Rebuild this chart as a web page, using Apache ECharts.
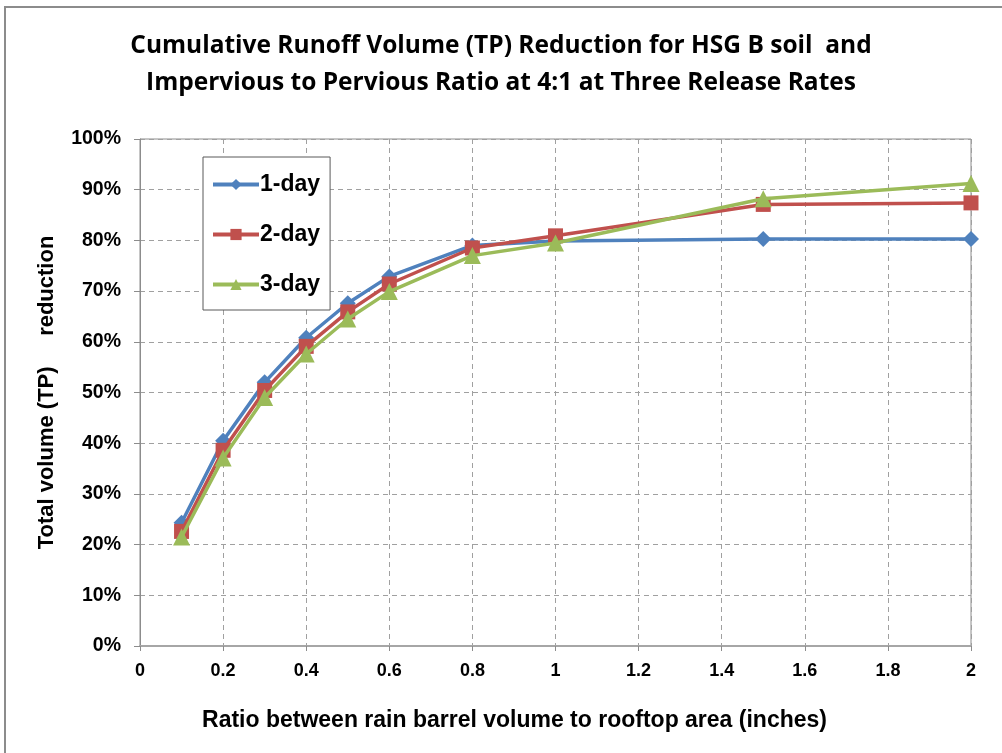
<!DOCTYPE html>
<html>
<head>
<meta charset="utf-8">
<script src="https://cdn.jsdelivr.net/npm/echarts@6/dist/echarts.min.js"></script>
<style>
  html, body { margin: 0; padding: 0; background: #ffffff; }
  #chart { width: 1002px; height: 753px; }
</style>
</head>
<body>
<div id="chart"></div>
<script>
// Rain barrel volume to rooftop area ratio (inches)
const ratios = [0.1, 0.2, 0.3, 0.4, 0.5, 0.6, 0.8, 1.0, 1.5, 2.0];
// Total volume (TP) reduction, percent
const oneDay   = [24.3, 40.5, 52.0, 60.8, 67.6, 72.9, 79.0, 79.9, 80.3, 80.3];
const twoDay   = [22.6, 38.6, 50.4, 59.1, 65.9, 71.4, 78.5, 80.9, 87.1, 87.4];
const threeDay = [21.5, 37.1, 49.0, 57.6, 64.5, 69.9, 77.0, 79.5, 88.2, 91.2];
const seriesNames = ['1-day', '2-day', '3-day'];
const titleLines = [
  'Cumulative Runoff Volume (TP) Reduction for HSG B soil  and',
  'Impervious to Pervious Ratio at 4:1 at Three Release Rates'
];
const xAxisTitle = 'Ratio between rain barrel volume to rooftop area (inches)';
const yAxisTitle = 'Total volume (TP)     reduction';

const pairs = arr => ratios.map((x, i) => [x, arr[i]]);

const chart = echarts.init(document.getElementById('chart'), null, { renderer: 'canvas' });

const axisFont = { fontFamily: 'Liberation Sans, Arial, sans-serif', fontWeight: 'bold', color: '#000' };

chart.setOption({
  backgroundColor: '#ffffff',
  animation: false,
  title: {
    text: titleLines.join('\n'),
    left: 'center',
    top: 23,
    padding: [5, 0, 5, 18],
    textStyle: {
      fontFamily: 'Open Sans, sans-serif',
      fontWeight: 'bold',
      fontSize: 24.5,
      lineHeight: 37,
      color: '#000'
    }
  },
  graphic: [
    {
      type: 'polyline',
      shape: { points: [[5, 753], [5, 7], [1002, 7]] },
      style: { stroke: '#8c8c8c', lineWidth: 2, fill: null }
    }
  ],
  legend: {
    orient: 'vertical',
    left: 203,
    top: 157,
    width: 127,
    padding: [16, 10, 14, 8],
    itemGap: 27,
    itemWidth: 46,
    itemHeight: 14,
    backgroundColor: '#ffffff',
    borderColor: '#595959',
    borderWidth: 1,
    lineStyle: { width: 4 },
    data: seriesNames,
    textStyle: { ...axisFont, fontSize: 23, padding: [0, 0, 0, -4] }
  },
  grid: {
    left: 140,
    right: 31,
    top: 139,
    bottom: 107,
    show: true,
    borderColor: '#8c8c8c',
    borderWidth: 1,
    containLabel: false
  },
  xAxis: {
    type: 'value',
    min: 0,
    max: 2,
    interval: 0.2,
    name: xAxisTitle,
    nameLocation: 'middle',
    nameGap: 63,
    nameTextStyle: { ...axisFont, fontSize: 23, padding: [0, 82, 0, 0] },
    axisLine: { show: true, lineStyle: { color: '#a6a6a6', width: 2 } },
    axisTick: { show: true, inside: false, length: 5, lineStyle: { color: '#8c8c8c' } },
    axisLabel: {
      ...axisFont,
      fontSize: 18,
      margin: 16,
      formatter: v => String(+v.toFixed(1))
    },
    splitLine: { show: true, lineStyle: { color: '#a0a0a0', type: [5, 4], width: 1 } }
  },
  yAxis: {
    type: 'value',
    min: 0,
    max: 100,
    interval: 10,
    name: yAxisTitle,
    nameLocation: 'middle',
    nameGap: 82,
    nameTextStyle: { ...axisFont, fontSize: 22 },
    axisLine: { show: true, lineStyle: { color: '#8c8c8c', width: 1 } },
    axisTick: { show: true, length: 6, lineStyle: { color: '#8c8c8c' } },
    axisLabel: { ...axisFont, fontSize: 19.5, margin: 19, formatter: '{value}%' },
    splitLine: { show: true, lineStyle: { color: '#a0a0a0', type: [5, 4], width: 1 } }
  },
  series: [
    {
      name: seriesNames[0],
      type: 'line',
      data: pairs(oneDay),
      symbol: 'diamond',
      symbolSize: 16,
      itemStyle: { color: '#4f81bd' },
      lineStyle: { color: '#4f81bd', width: 3.5 },
      z: 2
    },
    {
      name: seriesNames[1],
      type: 'line',
      data: pairs(twoDay),
      symbol: 'rect',
      symbolSize: 15,
      itemStyle: { color: '#c0504d' },
      lineStyle: { color: '#c0504d', width: 3.5 },
      z: 3
    },
    {
      name: seriesNames[2],
      type: 'line',
      data: pairs(threeDay),
      symbol: 'triangle',
      symbolSize: 17,
      itemStyle: { color: '#9bbb59' },
      lineStyle: { color: '#9bbb59', width: 3.5 },
      z: 4
    }
  ]
});
</script>
</body>
</html>
